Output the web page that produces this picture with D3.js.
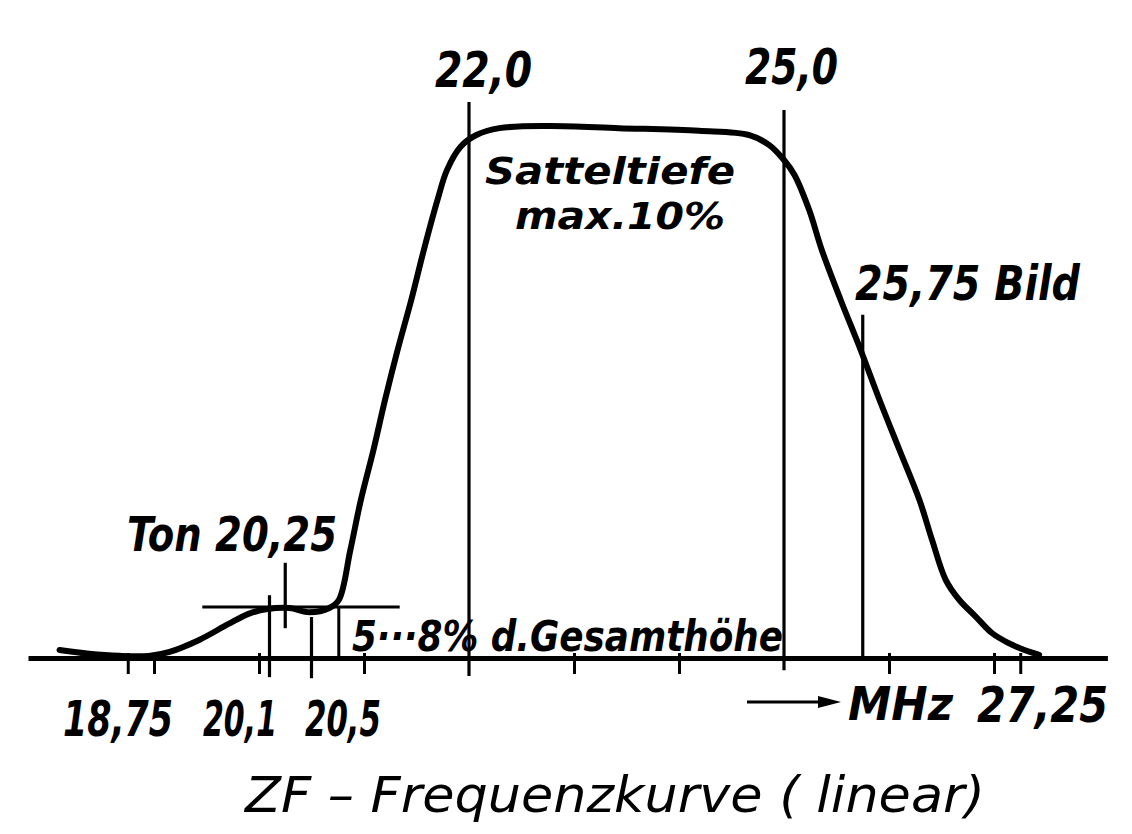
<!DOCTYPE html>
<html>
<head>
<meta charset="utf-8">
<script src="https://cdn.jsdelivr.net/npm/d3@7"></script>
<style>
  html, body { margin: 0; padding: 0; background: #fff; }
  svg text {
    font-family: "DejaVu Sans Condensed", "DejaVu Sans", "Liberation Sans", sans-serif;
    font-style: oblique;
    font-weight: bold;
    fill: #000;
  }
</style>
</head>
<body>
<div id="chart"></div>
<script>
const width = 1132;
const height = 834;

// IF response curve, frequency in MHz, amplitude in % of total height
const freq = [18.10, 18.38, 18.67, 18.95, 19.14, 19.43, 19.71, 19.90, 20.08, 20.29,
              20.48, 20.67, 20.76, 20.87, 20.97, 21.09, 21.20, 21.32, 21.45, 21.57,
              21.70, 21.79, 21.92, 22.07, 22.29, 22.76, 23.43, 24.19, 24.67, 24.86,
              25.00, 25.10, 25.24, 25.36, 25.54, 25.73, 25.91, 26.10, 26.29, 26.41,
              26.54, 26.67, 26.83, 26.98, 27.14, 27.29, 27.43];
const level = [1.5, 0.8, 0.4, 0.4, 1.1, 3.4, 6.4, 8.3, 9.2, 9.4,
               8.6, 9.4, 10.9, 20.3, 29.7, 39.1, 48.5, 57.9, 67.3, 76.7,
               86.1, 91.7, 96.1, 98.3, 99.6, 100, 99.6, 99.1, 98.3, 96.4,
               93.6, 90.8, 84.2, 76.7, 67.3, 57.9, 48.5, 39.1, 29.7, 22.2,
               14.7, 10.9, 7.7, 4.7, 2.8, 1.5, 0.6];

// marker lines (frequency, top %, bottom %)
const markerFreq   = [20.1, 20.25, 20.5, 22.0, 25.0, 25.75];
const markerTop    = [11.8, 17.9, 7.7, 104.5, 103.0, 64.5];
const markerBottom = [-3.6, 5.6, -3.8, -3.4, -2.3, 0];

// small unlabelled ticks on the frequency axis
const tickFreq = [18.75, 19, 20, 21, 23, 24, 26, 27, 27.25];

// Ton reference level (5...8 %) and the bracket
const tonLine = [19.46, 21.34];
const tonLevel = 9.6;
const bracketFreq = 20.76;

const axisDomain = [17.8, 28.08];

const x = d3.scaleLinear().domain(axisDomain).range([28, 28 + (axisDomain[1] - axisDomain[0]) * 105]);
const y = d3.scaleLinear().domain([0, 100]).range([658, 126]);

const svg = d3.select("#chart")
  .append("svg")
  .attr("width", width)
  .attr("height", height);

// axis with ticks
const axis = d3.axisBottom(x)
  .tickValues(tickFreq)
  .tickSize(16)
  .tickSizeOuter(0)
  .tickFormat("");

const axisG = svg.append("g")
  .attr("transform", `translate(0,${y(0)})`)
  .call(axis);
axisG.select(".domain").attr("stroke", "#000").attr("stroke-width", 5);
axisG.selectAll(".tick line")
  .attr("stroke", "#000")
  .attr("stroke-width", 3)
  .attr("y1", -5);

// marker verticals
svg.append("g").selectAll("line")
  .data(markerFreq)
  .join("line")
    .attr("x1", d => x(d))
    .attr("x2", d => x(d))
    .attr("y1", (d, i) => y(markerTop[i]))
    .attr("y2", (d, i) => y(markerBottom[i]))
    .attr("stroke", "#000")
    .attr("stroke-width", 3.2);

// Ton reference line + bracket
svg.append("line")
  .attr("x1", x(tonLine[0])).attr("x2", x(tonLine[1]))
  .attr("y1", y(tonLevel)).attr("y2", y(tonLevel))
  .attr("stroke", "#000").attr("stroke-width", 3);
svg.append("line")
  .attr("x1", x(bracketFreq)).attr("x2", x(bracketFreq))
  .attr("y1", y(tonLevel)).attr("y2", y(0))
  .attr("stroke", "#000").attr("stroke-width", 3);

// response curve
const line = d3.line()
  .x(d => x(d[0]))
  .y(d => y(d[1]))
  .curve(d3.curveCatmullRom.alpha(0.5));

svg.append("path")
  .datum(freq.map((f, i) => [f, level[i]]))
  .attr("d", line)
  .attr("fill", "none")
  .attr("stroke", "#000")
  .attr("stroke-width", 6)
  .attr("stroke-linecap", "round")
  .attr("stroke-linejoin", "round");

// MHz arrow
const arrowY = 702;
svg.append("line")
  .attr("x1", 747).attr("x2", 826)
  .attr("y1", arrowY).attr("y2", arrowY)
  .attr("stroke", "#000").attr("stroke-width", 3);
svg.append("path")
  .attr("d", `M${841},${arrowY} L${818},${arrowY - 6} L${818},${arrowY + 6} Z`)
  .attr("fill", "#000");

// texts: [text, left x, baseline y, width, font size]
const labels = [
  ["22,0", 435, 87, 97, 50],
  ["25,0", 745, 84, 93, 50],
  ["Satteltiefe", 485, 184, 250, 38],
  ["max.10%", 515, 229, 210, 38],
  ["25,75 Bild", 855, 300, 225, 48],
  ["Ton 20,25", 127, 551, 210, 48],
  ["5···8% d.Gesamthöhe", 352, 651, 431, 42],
  ["18,75", 63, 736, 110, 50],
  ["20,1", 203, 736, 74, 50],
  ["20,5", 305, 736, 76, 50],
  ["MHz", 848, 720, 105, 46],
  ["27,25", 977, 722, 131, 50]
];

svg.append("g").selectAll("text")
  .data(labels)
  .join("text")
    .attr("x", d => d[1])
    .attr("y", d => d[2])
    .attr("textLength", d => d[3])
    .attr("lengthAdjust", "spacingAndGlyphs")
    .attr("font-size", d => d[4])
    .text(d => d[0]);

svg.append("text")
  .attr("x", 245)
  .attr("y", 812)
  .attr("textLength", 740)
  .attr("lengthAdjust", "spacingAndGlyphs")
  .attr("font-size", 50)
  .style("font-weight", "normal")
  .text("ZF – Frequenzkurve ( linear)");
</script>
</body>
</html>
